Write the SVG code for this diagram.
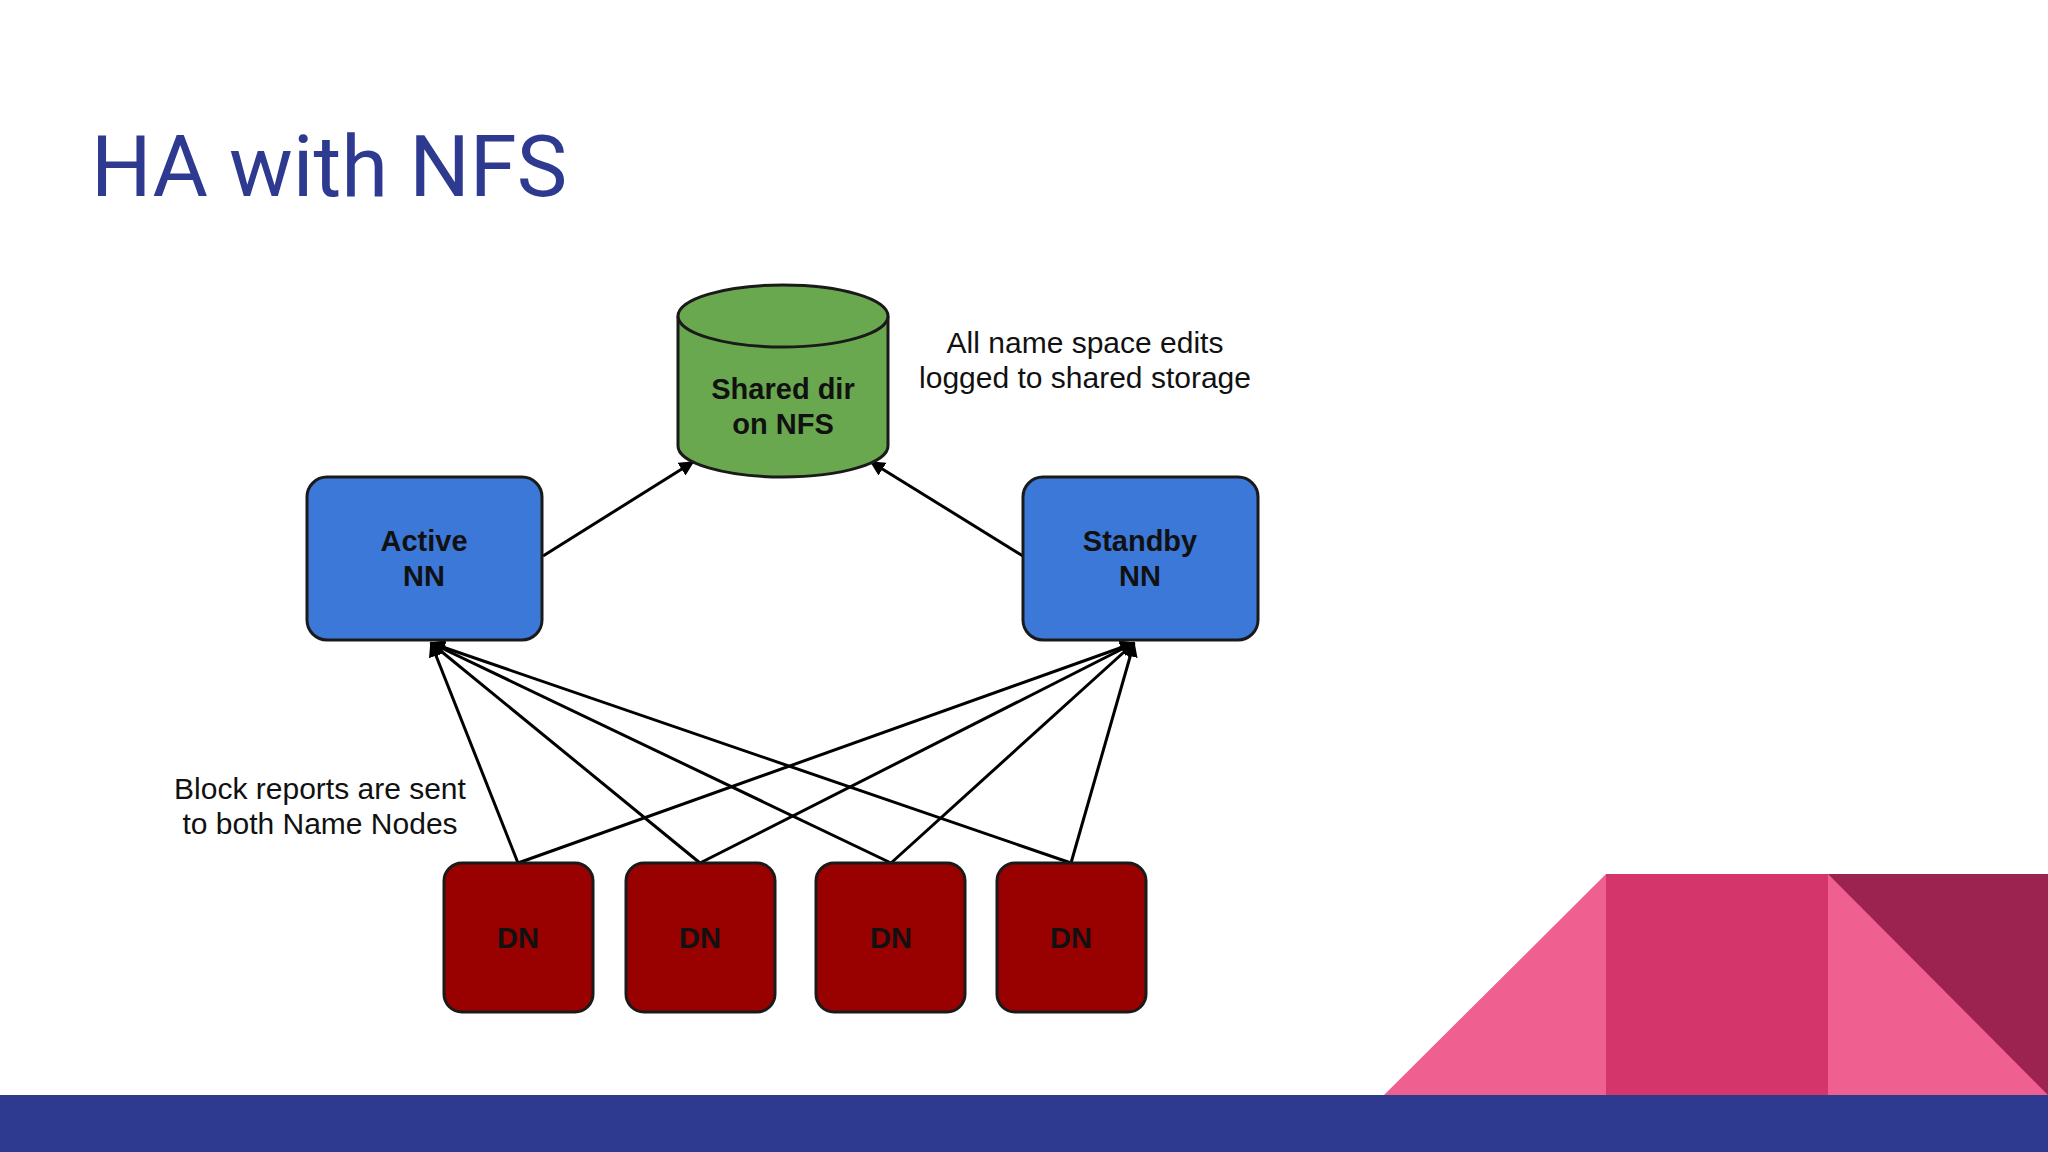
<svg xmlns="http://www.w3.org/2000/svg" width="2048" height="1152" viewBox="0 0 2048 1152">
<defs>
<style>
.t{font-family:"Liberation Sans",Arial,sans-serif;font-size:30px;fill:#111;text-anchor:middle}
.b{font-family:"Liberation Sans",Arial,sans-serif;font-size:29px;font-weight:bold;fill:#111;text-anchor:middle}
.nn{fill:#3c78d8;stroke:#1a1a1a;stroke-width:3}
.dn{fill:#990000;stroke:#1a1a1a;stroke-width:3}
.c line{stroke:#000;stroke-width:3;marker-end:url(#a)}
</style>
<marker id="a" viewBox="0 0 10 10" refX="9" refY="5" markerWidth="5" markerHeight="5" orient="auto"><path d="M0,0L10,5L0,10z" fill="#000"/></marker>
</defs>
<rect width="2048" height="1152" fill="#fff"/>
<text x="91" y="196" font-family="Roboto,'Liberation Sans',sans-serif" font-size="85" fill="#2e3a8f">HA with NFS</text>
<g id="deco">
<polygon points="1384,1095 1606,874 1606,1095" fill="#ef5f8f"/>
<rect x="1606" y="874" width="222" height="221" fill="#d4356a"/>
<rect x="1828" y="874" width="220" height="221" fill="#ef5f8f"/>
<polygon points="1828,874 2048,874 2048,1095" fill="#9c2350"/>
<rect x="0" y="1095" width="2048" height="57" fill="#2e3a8f"/>
</g>
<g class="c" id="connectors">
<line x1="543" y1="556" x2="693" y2="462"/>
<line x1="1023" y1="556" x2="871" y2="462"/>
<line x1="518" y1="863" x2="431" y2="643"/>
<line x1="700" y1="863" x2="431" y2="643"/>
<line x1="891" y1="863" x2="431" y2="643"/>
<line x1="1071" y1="863" x2="431" y2="643"/>
<line x1="518" y1="863" x2="1134" y2="643"/>
<line x1="700" y1="863" x2="1134" y2="643"/>
<line x1="891" y1="863" x2="1134" y2="643"/>
<line x1="1071" y1="863" x2="1134" y2="643"/>
</g>
<g id="nfs">
<path d="M678,316 V446 A105,31 0 0 0 888,446 V316" fill="#6aa84f" stroke="#1a1a1a" stroke-width="3"/>
<ellipse cx="783" cy="316" rx="105" ry="31" fill="#6aa84f" stroke="#1a1a1a" stroke-width="3"/>
<text class="b" x="783" y="399">Shared dir</text>
<text class="b" x="783" y="434">on NFS</text>
</g>
<g id="note1"><text class="t" x="1085" y="353">All name space edits</text><text class="t" x="1085" y="388">logged to shared storage</text></g>
<g id="note2"><text class="t" x="320" y="799">Block reports are sent</text><text class="t" x="320" y="834">to both Name Nodes</text></g>
<g id="active"><rect class="nn" x="307" y="477" width="235" height="163" rx="20"/><text class="b" x="424" y="551">Active</text><text class="b" x="424" y="586">NN</text></g>
<g id="standby"><rect class="nn" x="1023" y="477" width="235" height="163" rx="20"/><text class="b" x="1140" y="551">Standby</text><text class="b" x="1140" y="586">NN</text></g>
<g id="dn1"><rect class="dn" x="444" y="863" width="149" height="149" rx="18"/><text class="b" x="518" y="948">DN</text></g>
<g id="dn2"><rect class="dn" x="626" y="863" width="149" height="149" rx="18"/><text class="b" x="700" y="948">DN</text></g>
<g id="dn3"><rect class="dn" x="816" y="863" width="149" height="149" rx="18"/><text class="b" x="891" y="948">DN</text></g>
<g id="dn4"><rect class="dn" x="997" y="863" width="149" height="149" rx="18"/><text class="b" x="1071" y="948">DN</text></g>
</svg>
